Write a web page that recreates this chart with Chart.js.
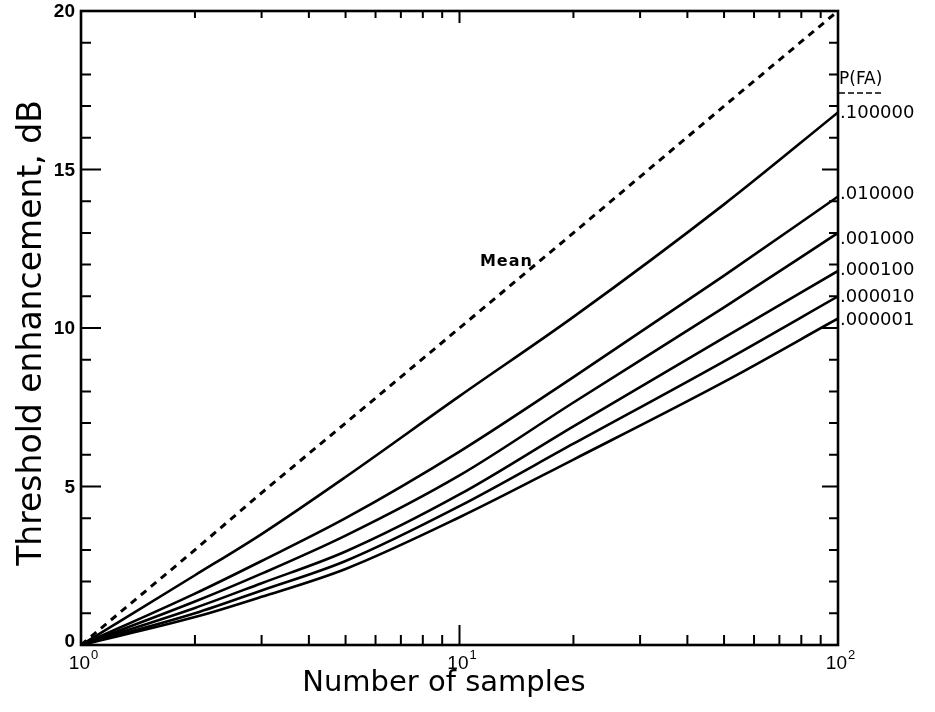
<!DOCTYPE html>
<html>
<head>
<meta charset="utf-8">
<script src="https://cdn.jsdelivr.net/npm/chart.js@4.4.1/dist/chart.umd.min.js"></script>
<style>
  html, body { margin: 0; padding: 0; background: #fff; }
  #wrap { width: 935px; height: 712px; }
</style>
</head>
<body>
<div id="wrap"><canvas id="c" width="935" height="712"></canvas></div>
<script>
// ---- data ----
const samples = [1, 2, 3, 5, 10, 20, 50, 100];
const meanCurve = [0, 3.0, 4.8, 7.0, 10.0, 13.0, 17.0, 20.0];
const pfa1e1 = [0, 2.2, 3.5, 5.3, 7.85, 10.35, 13.9, 16.8];
const pfa1e2 = [0, 1.62, 2.65, 4.0, 6.1, 8.45, 11.65, 14.15];
const pfa1e3 = [0, 1.37, 2.25, 3.45, 5.35, 7.65, 10.65, 13.0];
const pfa1e4 = [0, 1.17, 1.95, 2.95, 4.75, 6.9, 9.7, 11.8];
const pfa1e5 = [0, 1.0, 1.72, 2.65, 4.38, 6.35, 8.95, 11.0];
const pfa1e6 = [0, 0.88, 1.52, 2.4, 4.03, 5.85, 8.3, 10.3];
const pfaLabels = ['.100000', '.010000', '.001000', '.000100', '.000010', '.000001'];
const yTickLabels = [0, 5, 10, 15, 20];
const yMinorTicks = [1,2,3,4,5,6,7,8,9,10,11,12,13,14,15,16,17,18,19];
const xMajorTicks = [1, 10, 100];
const xTickExponents = ['0', '1', '2'];
const xMinorTicks = [2,3,4,5,6,7,8,9,10,20,30,40,50,60,70,80,90];
const meanLabel = { text: 'Mean', x: 13.3, y: 12.1 };
const xTitle = 'Number of samples';
const yTitle = 'Threshold enhancement, dB';
const legendTitle = 'P(FA)';

const toPts = arr => samples.map((n, i) => ({ x: n, y: arr[i] }));
const solidSeries = [pfa1e1, pfa1e2, pfa1e3, pfa1e4, pfa1e5, pfa1e6];

const datasets = [{
  label: 'Mean', data: toPts(meanCurve), borderColor: '#000', borderWidth: 3,
  borderDash: [7, 6], pointRadius: 0, tension: 0, fill: false
}].concat(solidSeries.map((s, i) => ({
  label: pfaLabels[i], data: toPts(s), borderColor: '#000', borderWidth: 2.6,
  pointRadius: 0, cubicInterpolationMode: 'monotone', fill: false
})));

const labelNudge = [1, -2, 6, -1, 1, 2];

const decor = {
  id: 'decor',
  afterDraw(chart) {
    const { ctx, chartArea: a, scales } = chart;
    const xs = scales.x, ys = scales.y;
    ctx.save();
    ctx.strokeStyle = '#000';
    ctx.fillStyle = '#000';
    // frame
    ctx.lineWidth = 2.6;
    ctx.strokeRect(a.left, a.top, a.right - a.left, a.bottom - a.top);
    // y ticks, left and right, inward
    ctx.lineWidth = 2;
    yMinorTicks.forEach(v => {
      const y = ys.getPixelForValue(v);
      const len = v % 5 === 0 ? 20 : 10;
      ctx.beginPath();
      ctx.moveTo(a.left, y); ctx.lineTo(a.left + len, y);
      ctx.moveTo(a.right, y); ctx.lineTo(a.right - (v % 5 === 0 ? 16 : 9), y);
      ctx.stroke();
    });
    // x ticks, bottom and top
    xMinorTicks.forEach(n => {
      const x = xs.getPixelForValue(n);
      const major = n === 10;
      ctx.beginPath();
      ctx.moveTo(x, a.bottom); ctx.lineTo(x, a.bottom - (major ? 20 : 10));
      ctx.moveTo(x, a.top); ctx.lineTo(x, a.top + (major ? 12 : 7));
      ctx.stroke();
    });
    // y tick labels
    ctx.font = 'bold 19px "Liberation Sans", Arial, sans-serif';
    ctx.textAlign = 'right';
    ctx.textBaseline = 'middle';
    yTickLabels.forEach(v => {
      const y = ys.getPixelForValue(v);
      ctx.fillText(String(v), a.left - 6, v === 0 ? y - 3 : y + 1);
    });
    // x tick labels 10^k
    xMajorTicks.forEach((n, i) => {
      const x = xs.getPixelForValue(n);
      ctx.font = '19px "Liberation Sans", Arial, sans-serif';
      const w1 = ctx.measureText('10').width;
      ctx.font = '13px "Liberation Sans", Arial, sans-serif';
      const w2 = ctx.measureText(xTickExponents[i]).width;
      const x0 = x - (w1 + w2) / 2 + 2;
      ctx.textAlign = 'left';
      ctx.textBaseline = 'alphabetic';
      ctx.font = '19px "Liberation Sans", Arial, sans-serif';
      ctx.fillText('10', x0, a.bottom + 24);
      ctx.font = '13px "Liberation Sans", Arial, sans-serif';
      ctx.fillText(xTickExponents[i], x0 + w1 + 1, a.bottom + 14);
    });
    // axis titles
    ctx.font = '29px "DejaVu Sans", sans-serif';
    ctx.textAlign = 'center';
    ctx.textBaseline = 'alphabetic';
    ctx.fillText(xTitle, 444, 691);
    ctx.save();
    ctx.translate(41, 333);
    ctx.rotate(-Math.PI / 2);
    ctx.font = '33px "DejaVu Sans", sans-serif';
    ctx.fillText(yTitle, 0, 0);
    ctx.restore();
    // right labels
    ctx.textAlign = 'left';
    ctx.textBaseline = 'middle';
    ctx.font = '18px "DejaVu Sans", sans-serif';
    solidSeries.forEach((s, i) => {
      const y = ys.getPixelForValue(s[s.length - 1]) + labelNudge[i];
      ctx.fillText(pfaLabels[i], a.right + 2, y);
    });
    ctx.font = '17px "DejaVu Sans", sans-serif';
    ctx.fillText(legendTitle, a.right + 1, 80);
    const tw = ctx.measureText(legendTitle).width;
    ctx.lineWidth = 1.5;
    ctx.setLineDash([6, 3]);
    ctx.beginPath();
    ctx.moveTo(a.right + 1, 93); ctx.lineTo(a.right + 1 + tw, 93);
    ctx.stroke();
    ctx.setLineDash([]);
    // Mean label
    ctx.font = 'bold 16px "DejaVu Sans", sans-serif';
    ctx.letterSpacing = '1px';
    ctx.textAlign = 'center';
    ctx.fillText(meanLabel.text, xs.getPixelForValue(meanLabel.x), ys.getPixelForValue(meanLabel.y));
    ctx.letterSpacing = '0px';
    ctx.restore();
  }
};

new Chart(document.getElementById('c'), {
  type: 'line',
  data: { datasets },
  options: {
    responsive: false,
    animation: false,
    events: [],
    layout: { padding: { left: 81, right: 97, top: 11, bottom: 67 } },
    plugins: { legend: { display: false }, tooltip: { enabled: false } },
    scales: {
      x: { type: 'logarithmic', min: 1, max: 100, display: false },
      y: { type: 'linear', min: 0, max: 20, display: false }
    }
  },
  plugins: [decor]
});
</script>
</body>
</html>
